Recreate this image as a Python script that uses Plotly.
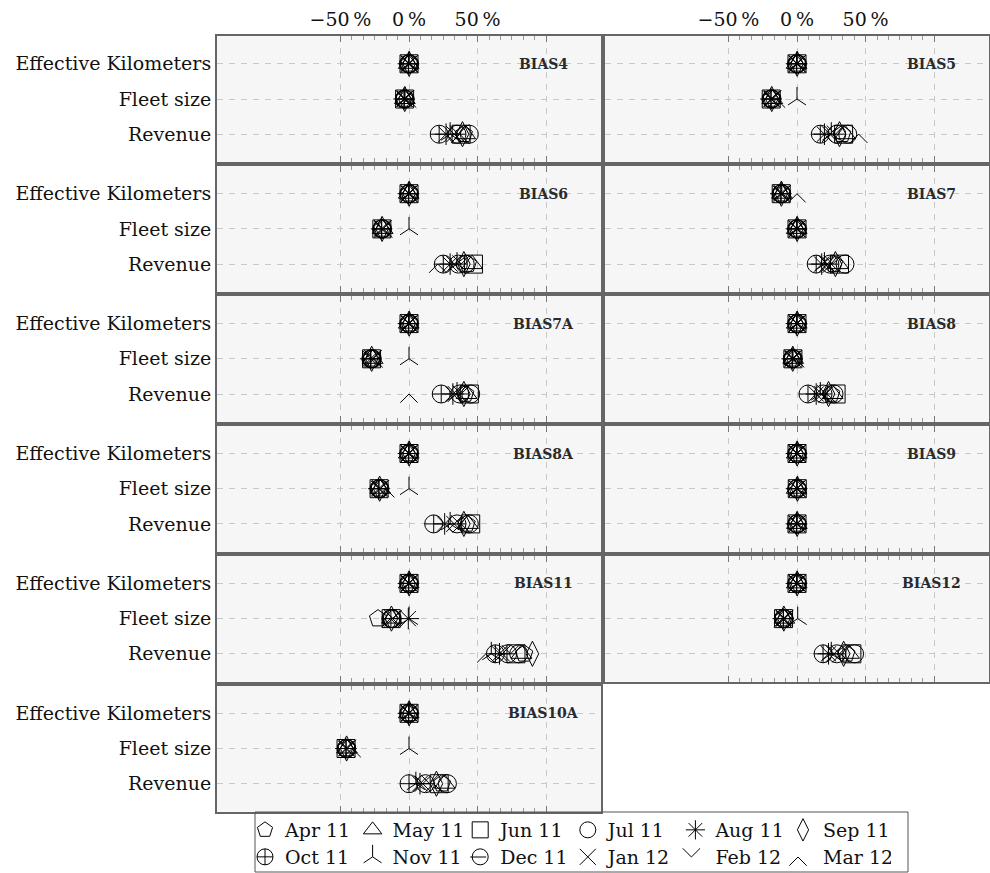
import plotly.graph_objects as go

months = ["Apr 11", "May 11", "Jun 11", "Jul 11", "Aug 11", "Sep 11",
          "Oct 11", "Nov 11", "Dec 11", "Jan 12", "Feb 12", "Mar 12"]
categories = ["Effective Kilometers", "Fleet size", "Revenue"]
panels = ["BIAS4", "BIAS5", "BIAS6", "BIAS7", "BIAS7A", "BIAS8",
          "BIAS8A", "BIAS9", "BIAS11", "BIAS12", "BIAS10A"]

# relative deviation in percent, one list per category, months in order above
BIAS4 = [
    [0.3, -0.2, 0.0, 0.4, -0.3, 0.1, -0.4, 0.2, 0.0, -0.1, 0.3, 0.5],
    [-3.5, -3.0, -3.2, -2.8, -3.6, -3.1, -3.4, -2.9, -3.3, -3.0, -2.7, -1.0],
    [40, 41, 38, 44, 27, 39, 22, 30, 35, 33, 36, 37],
]
BIAS5 = [
    [0.2, -0.3, 0.0, 0.3, -0.2, 0.1, -0.3, 0.2, 0.0, -0.1, 0.2, 0.4],
    [-18.5, -18.0, -18.8, -18.2, -19.0, -18.4, -18.9, 0.0, -18.6, -18.1, -17.8, -15.0],
    [33, 35, 34, 37, 20, 31, 17, 25, 29, 24, 28, 45],
]
BIAS6 = [
    [0.2, -0.2, 0.0, 0.3, -0.3, 0.1, -0.2, 0.2, 0.0, -0.1, 0.2, 0.3],
    [-19.5, -19.2, -19.8, -19.4, -20.0, -19.6, -19.9, 0.0, -19.5, -19.3, -19.0, -18.5],
    [43, 46, 47, 41, 30, 40, 25, 35, 36, 33, 38, 21],
]
BIAS7 = [
    [-11.3, -11.0, -11.5, -11.2, -11.8, -11.4, -11.6, -11.1, -11.3, -11.0, -10.8, 0.0],
    [0.2, -0.2, 0.0, 0.3, -0.3, 0.1, -0.2, 0.2, 0.0, -0.1, 0.2, 0.3],
    [27, 30, 31, 35, 18, 28, 14, 20, 24, 22, 26, 25],
]
BIAS7A = [
    [0.2, -0.2, 0.0, 0.3, -0.3, 0.1, -0.2, 0.2, 0.0, -0.1, 0.2, 0.3],
    [-27.0, -26.5, -27.3, -26.8, -28.0, -27.2, -27.8, 0.0, -27.1, -26.6, -26.2, -25.5],
    [41, 42, 44, 45, 32, 40, 23.5, 35, 37, 34, 38, 0.0],
]
BIAS8 = [
    [0.2, -0.2, 0.0, 0.3, -0.3, 0.1, -0.2, 0.2, 0.0, -0.1, 0.2, 0.3],
    [-3.2, -2.8, -3.0, -2.7, -3.5, -3.1, -3.4, -2.9, -3.3, -3.0, -2.6, -1.0],
    [25, 26, 28.5, 27, 14, 23, 8, 17, 19, 18, 21, 22],
]
BIAS8A = [
    [0.2, -0.2, 0.0, 0.3, -0.3, 0.1, -0.2, 0.2, 0.0, -0.1, 0.2, 0.3],
    [-21.5, -21.0, -21.8, -21.2, -22.0, -21.4, -21.9, 0.0, -21.6, -21.1, -20.8, -17.0],
    [42, 43, 45, 44, 26, 40, 18, 30, 35, 33, 37, 38],
]
BIAS9 = [
    [0.2, -0.2, 0.0, 0.3, -0.3, 0.1, -0.2, 0.2, 0.0, -0.1, 0.2, 0.3],
    [0.1, -0.3, 0.2, 0.0, -0.2, 0.3, -0.1, 0.2, 0.0, -0.2, 0.1, 0.3],
    [0.3, -0.1, 0.0, 0.2, -0.3, 0.1, -0.2, 0.2, 0.0, -0.1, 0.2, 0.2],
]
BIAS11 = [
    [0.2, -0.2, 0.0, 0.3, -0.3, 0.1, -0.2, 0.2, 0.0, -0.1, 0.2, 0.3],
    [-22.6, -12.5, -13.0, -12.2, -0.5, -12.8, -13.2, 0.0, -12.6, -12.0, -11.6, -13.5],
    [84, 82, 78, 80, 66, 90, 63, 60, 72, 68, 74, 56],
]
BIAS12 = [
    [0.2, -0.2, 0.0, 0.3, -0.3, 0.1, -0.2, 0.2, 0.0, -0.1, 0.2, 0.3],
    [-9.6, -9.2, -9.8, -9.4, -10.0, -9.6, -9.9, 0.5, -9.5, -9.3, -9.0, -10.5],
    [36, 38, 40, 42, 23, 34, 19, 25, 29, 27, 31, 32],
]
BIAS10A = [
    [0.2, -0.2, 0.0, 0.3, -0.3, 0.1, -0.2, 0.2, 0.0, -0.1, 0.2, 0.3],
    [-45.6, -45.2, -45.9, -45.4, -46.0, -45.5, -45.8, 0.0, -45.6, -45.3, -45.0, -41.5],
    [24, 26, 22, 28, 8, 20, 0.0, 5, 12, 10, 15, 18],
]
panel_values = [BIAS4, BIAS5, BIAS6, BIAS7, BIAS7A, BIAS8,
                BIAS8A, BIAS9, BIAS11, BIAS12, BIAS10A]

tick_vals = [-50, 0, 50, 100]
tick_text = ["\u221250\u2009%", "0\u2009%", "50\u2009%", ""]

# marker styles per month (Feb/Mar are chevrons drawn as short strokes)
symbols = ["pentagon-open", "triangle-up-open", "square-open", "circle-open",
           "asterisk-open", "diamond-tall-open", "circle-cross-open", "y-up-open",
           "circle-open", "x-thin-open", None, None]
sizes = [18, 18, 18, 18, 18, 18, 18, 15, 18, 16, 0, 0]
chevron_dir = {10: -1, 11: 1}   # -1: "∨" (legs up), +1: "∧" (legs down)

W, H = 990, 873
col_x = [(217, 601), (605, 989)]
row_top0, row_step, panel_h = 36, 129.9, 126
X_RANGE = [-140, 140]
Y_RANGE = [2.79, -0.79]

SERIF = "DejaVu Serif"
FS = 19
CHEV_PX = 8.7  # half-width / height of the chevron marks, pixels

# legend geometry (pixels)
LEG_X = 245
LEG_STEP = 106.6
LEG_ROWS_Y = [830, 857]

panel_w = col_x[0][1] - col_x[0][0]
chev_dx = CHEV_PX * (X_RANGE[1] - X_RANGE[0]) / panel_w
chev_dy = CHEV_PX * abs(Y_RANGE[0] - Y_RANGE[1]) / panel_h

fig = go.Figure()
layout = {}
for p, name in enumerate(panels):
    row, col = divmod(p, 2)
    n = p + 1
    xa = "x" if n == 1 else f"x{n}"
    ya = "y" if n == 1 else f"y{n}"
    top = row_top0 + row * row_step
    bot = top + panel_h
    x0, x1 = col_x[col]
    vals = panel_values[p]
    for m, month in enumerate(months):
        xs = [vals[c][m] for c in range(3)]
        ys = list(range(3))
        leg = "legend" if m < 6 else "legend2"
        if m in chevron_dir:
            s = chevron_dir[m]
            cx, cy = [], []
            for xv, yv in zip(xs, ys):
                cx += [xv - chev_dx, xv, xv + chev_dx, None]
                cy += [yv + s * chev_dy, yv, yv + s * chev_dy, None]
            fig.add_trace(go.Scatter(
                x=cx, y=cy, xaxis=xa, yaxis=ya, mode="lines",
                line=dict(color="black", width=1), name=month,
                legendgroup=month, showlegend=False, hoverinfo="skip"))
        else:
            fig.add_trace(go.Scatter(
                x=xs, y=ys, xaxis=xa, yaxis=ya, mode="markers",
                marker=dict(symbol=symbols[m], size=sizes[m], color="black",
                            line=dict(width=1, color="black")),
                name=month, legendgroup=month, showlegend=(p == 0), legend=leg,
                hoverinfo="skip"))
            if m == 8:  # Dec 11: circle with horizontal bar
                fig.add_trace(go.Scatter(
                    x=xs, y=ys, xaxis=xa, yaxis=ya, mode="markers",
                    marker=dict(symbol="line-ew-open", size=sizes[m] / 1.414,
                                color="black", line=dict(width=1, color="black")),
                    name=month, legendgroup=month, showlegend=False,
                    hoverinfo="skip"))
    minor_vals = [-50 + k * 50 / 6 for k in range(19) if k % 6 != 0]
    layout["xaxis" if n == 1 else f"xaxis{n}"] = dict(
        domain=[x0 / W, x1 / W], anchor=ya, range=X_RANGE,
        side="top", tickmode="array", tickvals=tick_vals, ticktext=tick_text,
        showticklabels=(row == 0),
        tickfont=dict(family=SERIF, size=FS, color="#111"),
        ticks="inside", ticklen=6, tickcolor="#777", tickwidth=1,
        minor=dict(tickvals=minor_vals, ticks="inside", ticklen=4,
                   tickcolor="#999", tickwidth=1, showgrid=False),
        showgrid=True, gridcolor="#c8c8c8", gridwidth=1, griddash="6px,6px",
        showline=True, linecolor="#666", linewidth=2, mirror="allticks",
        zeroline=False, fixedrange=True, automargin=False)
    layout["yaxis" if n == 1 else f"yaxis{n}"] = dict(
        domain=[1 - bot / H, 1 - top / H], anchor=xa, range=Y_RANGE,
        tickmode="array", tickvals=[0, 1, 2], ticktext=categories,
        showticklabels=(col == 0), ticks="", ticklabelstandoff=0,
        tickfont=dict(family=SERIF, size=FS, color="#111"),
        showgrid=True, gridcolor="#c8c8c8", gridwidth=1, griddash="6px,6px",
        showline=True, linecolor="#666", linewidth=2, mirror=True,
        zeroline=False, fixedrange=True, automargin=False)
    fig.add_annotation(
        text=name, xref=f"{xa} domain", yref=ya, x=0.85, y=0,
        xanchor="center", yanchor="middle", showarrow=False,
        font=dict(family="DejaVu Serif", size=14, color="#2a2a2a", weight="bold"))

# legend-only entries for the chevron months, with their sample drawn beside
for m, s in chevron_dir.items():
    fig.add_trace(go.Scatter(
        x=[None], y=[None], mode="markers",
        marker=dict(size=1, color="rgba(0,0,0,0)"),
        name=months[m], legendgroup=months[m], legend="legend2",
        showlegend=True, hoverinfo="skip"))
    cxp = LEG_X + 20 + (m - 6) * LEG_STEP
    cyp = LEG_ROWS_Y[1]
    pts = [(cxp - CHEV_PX, cyp + s * CHEV_PX), (cxp, cyp), (cxp + CHEV_PX, cyp + s * CHEV_PX)]
    path = "M" + " L".join(f"{px / W:.5f},{1 - py / H:.5f}" for px, py in pts)
    fig.add_shape(type="path", xref="paper", yref="paper", path=path,
                  line=dict(color="black", width=1))

# Dec 11 legend sample: bar across the circle
dec_cx = LEG_X + 20 + 2 * LEG_STEP
fig.add_shape(type="line", xref="paper", yref="paper",
              x0=(dec_cx - 8) / W, x1=(dec_cx + 8) / W,
              y0=1 - LEG_ROWS_Y[1] / H, y1=1 - LEG_ROWS_Y[1] / H,
              line=dict(color="black", width=1))

# legend frame
fig.add_shape(type="rect", xref="paper", yref="paper",
              x0=255 / W, x1=908 / W, y0=1 - 872 / H, y1=1 - 812 / H,
              line=dict(color="#555", width=1), fillcolor="rgba(0,0,0,0)")

legend_common = dict(orientation="h", xanchor="left", x=LEG_X / W,
                     yanchor="middle", traceorder="normal",
                     entrywidth=LEG_STEP - 44, entrywidthmode="pixels",
                     font=dict(family=SERIF, size=FS, color="#111"),
                     bgcolor="rgba(0,0,0,0)", borderwidth=0,
                     itemsizing="trace")

fig.update_layout(
    **layout,
    width=W, height=H,
    margin=dict(l=0, r=0, t=0, b=0, autoexpand=False),
    paper_bgcolor="white", plot_bgcolor="#f6f6f6",
    showlegend=True,
    legend=dict(**legend_common, y=1 - LEG_ROWS_Y[0] / H),
    legend2=dict(**legend_common, y=1 - LEG_ROWS_Y[1] / H),
)
fig.write_html("out.html",
               config={"displayModeBar": False, "staticPlot": False},
               post_script="document.body.style.margin='0px';"
                           "document.body.style.overflow='hidden';")
